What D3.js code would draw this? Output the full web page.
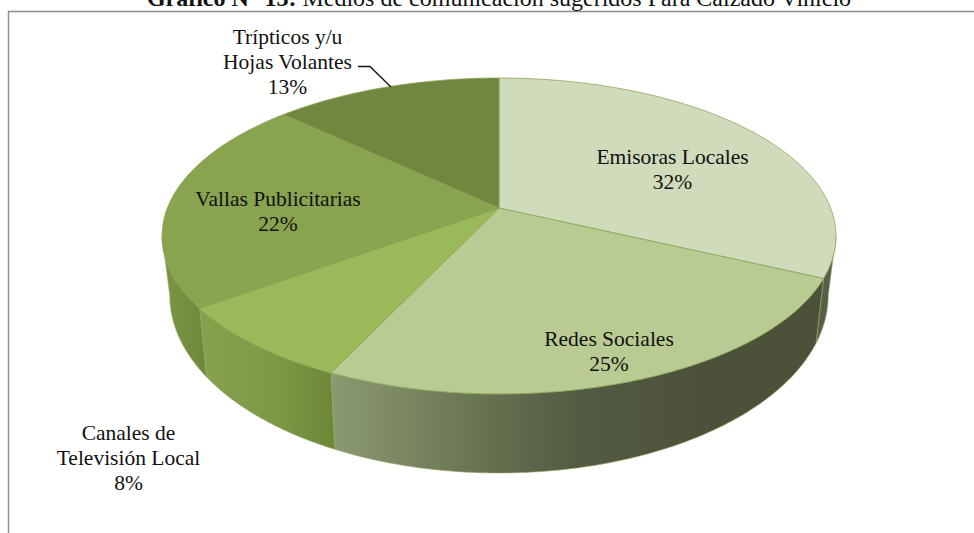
<!DOCTYPE html>
<html><head><meta charset="utf-8">
<script src="https://cdn.jsdelivr.net/npm/d3@7"></script>
<style>
html,body{margin:0;padding:0;background:#fff;overflow:hidden}
text{font-family:"Liberation Serif","Times New Roman",serif;fill:#111}
</style></head><body>
<script>
// Chart values
const categories = ["Emisoras Locales","Redes Sociales","Canales de Televisión Local","Vallas Publicitarias","Trípticos y/u Hojas Volantes"];
const percentages = [32,25,8,22,13];
const labelLines = [["Emisoras Locales"],["Redes Sociales"],["Canales de","Televisión Local"],["Vallas Publicitarias"],["Trípticos y/u","Hojas Volantes"]];
const topColors = ["#d0dbbb","#b9cb93","#9aba59","#88a44f","#71873f"];
const wallStops = [
  ["#59614a","#555c46"],
  ["#8c9a72","#6e7a56","#535b42","#4b5239","#4b5239"],
  ["#86a24d","#7f9a47","#6c8836"],
  ["#7b9743","#6e883b"],
  ["#6e883b","#6e883b"]
];

const width = 974, height = 533;
const svg = d3.select("body").append("svg").attr("width",width).attr("height",height);
const defs = svg.append("defs");

// Perspective disc: the unit circle is foreshortened towards the back
const cx = 499, tilt = 0.177;
const topDisc = {rx:331.6, ry:153, y:208};
const baseDisc = {rx:324, ry:172, y:264};
const project = (disc, a) => {
  const u = Math.sin(a), v = -Math.cos(a), w = 1 - tilt*v;
  return [cx + disc.rx*u/w, disc.y + disc.ry*v/w];
};
const arcPoints = (disc, a0, a1) => {
  const n = Math.max(2, Math.ceil(Math.abs(a1-a0)/0.01));
  return d3.range(n+1).map(i => project(disc, a0 + (a1-a0)*i/n));
};
const line = d3.line();

const arcs = d3.pie().sort(null)(percentages);
// Visible front of the wall runs between the disc's two horizontal extremes
const frontStart = Math.acos(-tilt), frontEnd = 2*Math.PI - frontStart;

// Frame
svg.append("path").attr("d",d3.line()([[8.5,533],[8.5,11.5],[974,11.5]]))
  .attr("fill","none").attr("stroke","#8c8c8c").attr("stroke-width",1.4);

// Title
const title = svg.append("text").attr("x",499).attr("y",6).attr("text-anchor","middle").attr("font-size",24);
title.append("tspan").attr("font-weight","bold").text("Gráfico N° 13:");
title.append("tspan").text(" Medios de comunicación sugeridos Para Calzado Vinicio");

// Walls
const walls = svg.append("g");
arcs.forEach((d,i) => {
  const a0 = Math.max(d.startAngle, frontStart), a1 = Math.min(d.endAngle, frontEnd);
  if (a1 <= a0) return;
  const pts = arcPoints(topDisc,a0,a1).concat(arcPoints(baseDisc,a1,a0));
  const xs = d3.extent(pts, p => p[0]);
  const stops = wallStops[i];
  const g = defs.append("linearGradient").attr("id","wall"+i)
    .attr("gradientUnits","userSpaceOnUse").attr("x1",xs[0]).attr("x2",xs[1]).attr("y1",0).attr("y2",0);
  stops.forEach((c,j) => g.append("stop").attr("offset",j/(stops.length-1)).attr("stop-color",c));
  walls.append("path").attr("d",line(pts)+"Z").attr("fill",`url(#wall${i})`)
    .attr("stroke","#93a968").attr("stroke-width",0.6);
});

// Top faces
const faces = svg.append("g");
arcs.forEach((d,i) => {
  const pts = [[cx,topDisc.y]].concat(arcPoints(topDisc,d.startAngle,d.endAngle));
  faces.append("path").datum(categories[i]).attr("d",line(pts)+"Z").attr("fill",topColors[i])
    .attr("stroke","#8aa556").attr("stroke-width",0.8).attr("stroke-linejoin","round");
});

// Leader line of the small top slice
svg.append("path").attr("d",d3.line()([[358,66.5],[370,66.5],[391,87]]))
  .attr("fill","none").attr("stroke","#111").attr("stroke-width",1.3);

// Data labels
const labelAnchors = [[672.5,164],[609,346],[128.5,440],[278,206],[287.5,43.5]];
const labelLeading = 25;
labelLines.forEach((lines,i) => {
  const t = svg.append("text").attr("text-anchor","middle").attr("font-size",21.5);
  lines.concat(percentages[i]+"%").forEach((s,j) => {
    t.append("tspan").attr("x",labelAnchors[i][0]).attr("y",labelAnchors[i][1]+j*labelLeading).text(s);
  });
});
</script>
</body></html>
